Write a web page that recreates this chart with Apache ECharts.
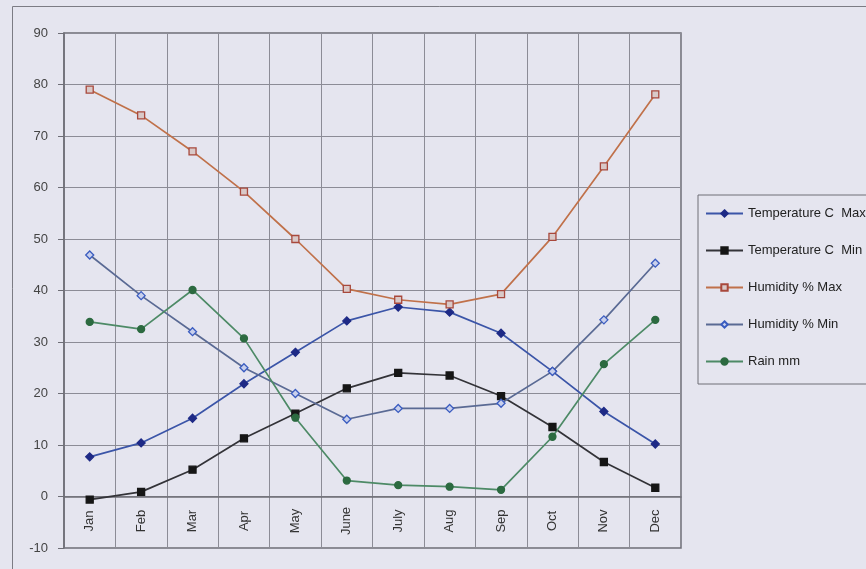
<!DOCTYPE html>
<html>
<head>
<meta charset="utf-8">
<script src="https://cdn.jsdelivr.net/npm/echarts@6/dist/echarts.min.js"></script>
<style>
  html, body { margin: 0; padding: 0; background: #e5e5ef; }
  #chart { width: 866px; height: 569px; }
</style>
</head>
<body>
<div id="chart"></div>
<script>
// Monthly climate figures
const months = ['Jan', 'Feb', 'Mar', 'Apr', 'May', 'June', 'July', 'Aug', 'Sep', 'Oct', 'Nov', 'Dec'];
const tempMax = [7.7, 10.4, 15.2, 21.9, 28.0, 34.1, 36.8, 35.8, 31.7, 24.3, 16.5, 10.2];
const tempMin = [-0.6, 0.9, 5.2, 11.3, 16.1, 21.0, 24.0, 23.5, 19.5, 13.5, 6.7, 1.7];
const humidityMax = [79.0, 74.0, 67.0, 59.2, 50.0, 40.3, 38.2, 37.3, 39.3, 50.4, 64.1, 78.1];
const humidityMin = [46.9, 39.0, 32.0, 25.0, 20.0, 15.0, 17.1, 17.1, 18.1, 24.3, 34.3, 45.3];
const rainMm = [33.9, 32.5, 40.1, 30.7, 15.3, 3.1, 2.2, 1.9, 1.3, 11.6, 25.7, 34.3];

const BG = '#e5e5ef';
const FONT = '"Liberation Sans", Arial, sans-serif';

function lineSeries(name, data, lineColor, symbol, size, fill, border) {
  return {
    name: name,
    type: 'line',
    data: data,
    symbol: symbol,
    symbolSize: size,
    showAllSymbol: true,
    lineStyle: { color: lineColor, width: 1.7 },
    itemStyle: { color: fill, borderColor: border, borderWidth: 1.3 },
    emphasis: { disabled: true },
    animation: false
  };
}

const chart = echarts.init(document.getElementById('chart'), null, { renderer: 'canvas' });
chart.setOption({
  backgroundColor: BG,
  animation: false,
  textStyle: { fontFamily: FONT },
  graphic: [{
    type: 'rect',
    silent: true,
    z: -1,
    shape: { x: 12.5, y: 6.5, width: 1000, height: 1000 },
    style: { fill: 'none', stroke: '#7c7c84', lineWidth: 1 }
  }],
  grid: {
    left: 64, top: 33, right: 185, bottom: 21,
    show: true, backgroundColor: BG, borderColor: '#6e6e76', borderWidth: 1.5
  },
  legend: {
    orient: 'vertical',
    left: 698, top: 195,
    padding: [11, 10, 15, 7],
    itemWidth: 37, itemHeight: 8, itemGap: 22,
    borderColor: '#6e6e76', borderWidth: 1,
    textStyle: { fontSize: 13, lineHeight: 15, color: '#222', fontFamily: FONT }
  },
  xAxis: {
    type: 'category',
    data: months,
    boundaryGap: true,
    axisLine: { lineStyle: { color: '#6e6e76', width: 1.5 } },
    axisTick: { show: false },
    axisLabel: {
      inside: true, rotate: 90, align: 'center', margin: 27,
      fontSize: 13, color: '#333', fontFamily: FONT, interval: 0
    },
    splitLine: { show: true, interval: 0, lineStyle: { color: '#8c8c96', width: 1 } }
  },
  yAxis: {
    type: 'value',
    min: -10, max: 90, interval: 10,
    axisLine: { show: true, lineStyle: { color: '#6e6e76', width: 1.5 } },
    axisTick: { show: true, length: 6, lineStyle: { color: '#6e6e76' } },
    axisLabel: { margin: 16, fontSize: 13, color: '#444', fontFamily: FONT },
    splitLine: { show: true, lineStyle: { color: '#8c8c96', width: 1 } }
  },
  series: [
    lineSeries('Temperature C  Max', tempMax, '#3b55a8', 'diamond', 8, '#1e2a86', '#1e2a86'),
    lineSeries('Temperature C  Min', tempMin, '#333338', 'rect', 7, '#161616', '#161616'),
    lineSeries('Humidity % Max', humidityMax, '#c0714a', 'rect', 7, '#d9c9c8', '#a8483c'),
    lineSeries('Humidity % Min', humidityMin, '#5a6a94', 'diamond', 8, '#c9d0ec', '#3a5cc0'),
    lineSeries('Rain mm', rainMm, '#4d8a66', 'circle', 7, '#2c6a40', '#2c6a40')
  ]
});
</script>
</body>
</html>
